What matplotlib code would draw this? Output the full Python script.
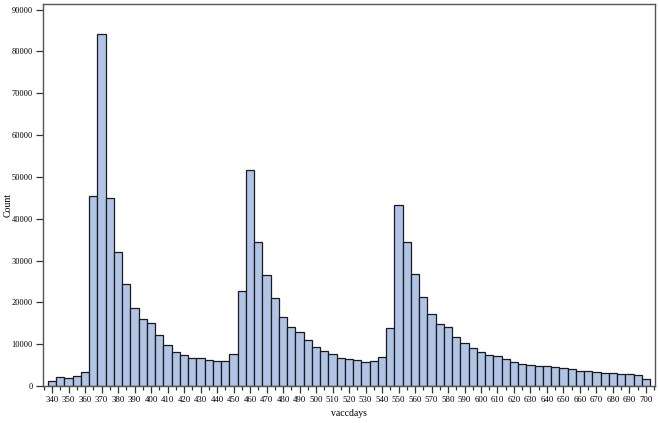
import matplotlib
matplotlib.use("Agg")
import matplotlib.pyplot as plt
from matplotlib.ticker import MultipleLocator

# bin centres (vaccdays) and counts
vaccdays = list(range(340, 705, 5))
counts = [
    1300, 2100, 2000, 2300, 3300,            # 340-360
    45400, 84100, 45000, 32100, 24400,       # 365-385
    18600, 16100, 15100, 12200, 9700,        # 390-410
    8100, 7400, 6800, 6800, 6300,            # 415-435
    5900, 5900, 7600, 22600, 51600,          # 440-460
    34400, 26600, 21000, 16400, 14000,       # 465-485
    13000, 11100, 9400, 8400, 7700,          # 490-510
    6800, 6500, 6300, 5700, 6000,            # 515-535
    7000, 13800, 43400, 34400, 26900,        # 540-560
    21300, 17100, 14800, 14000, 11800,       # 565-585
    10300, 9200, 8200, 7300, 7100,           # 590-610
    6400, 5700, 5300, 5000, 4800,            # 615-635
    4800, 4600, 4400, 4000, 3700,            # 640-660
    3600, 3400, 3000, 3000, 2900,            # 665-685
    2900, 2600, 1700,                        # 690-700
]
xticks = list(range(340, 710, 10))
yticks = list(range(0, 100000, 10000))

fig = plt.figure(figsize=(6.59, 4.23), dpi=100)
ax = fig.add_axes([0.0645, 0.0875, 0.929, 0.9025])

ax.bar(vaccdays, counts, width=5, color="#b0c4e6", edgecolor="#1a1a1a",
       linewidth=0.9, align="center")

ax.set_xlim(334.2, 705.3)
ax.set_ylim(0, 91300)
ax.set_xticks(xticks)
ax.xaxis.set_minor_locator(MultipleLocator(5))
ax.set_yticks(yticks)

font = dict(family="Liberation Serif")
ax.set_xticklabels([str(t) for t in xticks], fontsize=6.3, **font)
ax.set_yticklabels([str(t) for t in yticks], fontsize=6, **font)
ax.tick_params(axis="x", which="major", length=5, width=0.9, color="#333333", pad=2.5)
ax.tick_params(axis="x", which="minor", length=3, width=0.9, color="#333333")
ax.tick_params(axis="y", which="major", length=5, width=0.9, color="#333333", pad=2)

for s in ax.spines.values():
    s.set_color("#555555")
    s.set_linewidth(1.0)

ax.set_xlabel("vaccdays", fontsize=7, labelpad=3, **font)
fig.text(8 / 659, 1 - 205 / 423, "Count", rotation=90, ha="center", va="center",
         fontsize=7, **font)

fig.savefig("out.png", dpi=100)
